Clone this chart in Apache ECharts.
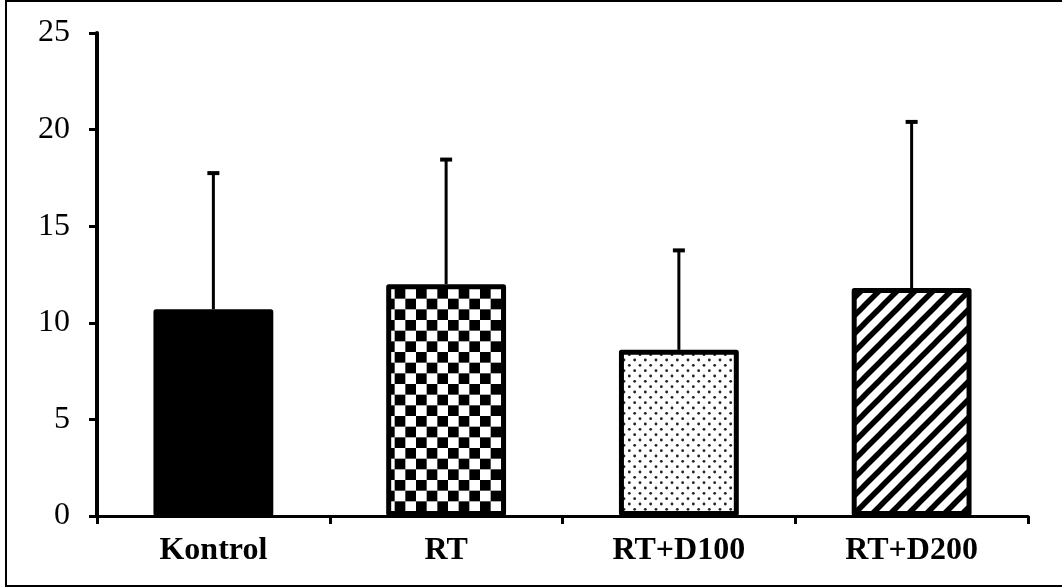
<!DOCTYPE html>
<html>
<head>
<meta charset="utf-8">
<title>Kontrol / RT / RT+D100 / RT+D200</title>
<script src="https://cdn.jsdelivr.net/npm/echarts@6/dist/echarts.min.js"></script>
<style>
  html, body { margin: 0; padding: 0; background: #fff; }
  #chart { width: 1062px; height: 587px; }
</style>
</head>
<body>
<div id="chart"></div>
<script>
// Group means and their upper error (SD)
const categories = ['Kontrol', 'RT', 'RT+D100', 'RT+D200'];
const means = [10.7, 12.0, 8.6, 11.8];
const errors = [7.1, 6.5, 5.2, 8.65];
const yTicks = [0, 5, 10, 15, 20, 25];

// Fill textures for the bars
function makeCanvas(w, h, draw) {
  const c = document.createElement('canvas');
  c.width = w; c.height = h;
  const ctx = c.getContext('2d');
  ctx.fillStyle = '#fff';
  ctx.fillRect(0, 0, w, h);
  draw(ctx, w, h);
  return c;
}

const checker = makeCanvas(64, 64, (ctx, w) => {
  const s = w / 6;
  ctx.fillStyle = '#000';
  for (let i = 0; i < 6; i++) {
    for (let j = 0; j < 6; j++) {
      if ((i + j) % 2 === 0) ctx.fillRect(i * s, j * s, s, s);
    }
  }
});

const dots = makeCanvas(32, 32, (ctx, w, h) => {
  const dx = w / 3, dy = h / 6;
  ctx.fillStyle = '#222';
  for (let j = 0; j < 6; j++) {
    for (let i = 0; i < 4; i++) {
      const x = i * dx + (j % 2 ? dx / 2 : 0);
      const y = j * dy + dy / 2;
      ctx.beginPath();
      ctx.arc(x, y, 1.4, 0, Math.PI * 2);
      ctx.fill();
    }
  }
});

const stripes = makeCanvas(18, 18, (ctx, w, h) => {
  ctx.strokeStyle = '#000';
  ctx.lineWidth = 5.5;
  for (let k = -1; k <= 1; k++) {
    ctx.beginPath();
    ctx.moveTo(k * w - 2, h + 2);
    ctx.lineTo(k * w + w + 2, -2);
    ctx.stroke();
  }
});

const fills = [
  '#000',
  { image: checker, repeat: 'repeat' },
  { image: dots, repeat: 'repeat' },
  { image: stripes, repeat: 'repeat' }
];

const errorData = means.map((m, i) => [i, m, m + errors[i]]);

const chart = echarts.init(document.getElementById('chart'), null, { renderer: 'canvas' });

chart.setOption({
  animation: false,
  backgroundColor: '#fff',
  graphic: [{
    type: 'rect',
    shape: { x: 6, y: 1, width: 1070, height: 585 },
    style: { fill: 'none', stroke: '#000', lineWidth: 2 },
    silent: true,
    z: 0
  }],
  grid: { left: 97, right: 34, top: 33, bottom: 71, containLabel: false },
  xAxis: {
    type: 'category',
    data: categories,
    boundaryGap: true,
    axisLine: { lineStyle: { color: '#000', width: 3 } },
    axisTick: { show: true, alignWithLabel: false, length: 8, lineStyle: { color: '#000', width: 3 } },
    axisLabel: {
      color: '#000',
      fontFamily: 'Liberation Serif',
      fontWeight: 'bold',
      fontSize: 32,
      margin: 19
    },
    splitLine: { show: false }
  },
  yAxis: {
    type: 'value',
    min: yTicks[0],
    max: yTicks[yTicks.length - 1],
    interval: 5,
    axisLine: { show: true, lineStyle: { color: '#000', width: 4 } },
    axisTick: { show: true, length: 8, lineStyle: { color: '#000', width: 3 } },
    axisLabel: {
      color: '#000',
      fontFamily: 'Liberation Serif',
      fontSize: 32,
      margin: 27
    },
    splitLine: { show: false }
  },
  series: [
    {
      type: 'custom',
      z: 1,
      data: errorData,
      renderItem: function (params, api) {
        const x = api.value(0);
        const base = api.coord([x, api.value(1)]);
        const top = api.coord([x, api.value(2)]);
        const capW = 12;
        return {
          type: 'group',
          children: [
            {
              type: 'line',
              shape: { x1: top[0], y1: top[1], x2: base[0], y2: base[1] },
              style: { stroke: '#000', lineWidth: 3 }
            },
            {
              type: 'rect',
              shape: { x: top[0] - capW / 2, y: top[1] - 1, width: capW, height: 4 },
              style: { fill: '#000' }
            }
          ]
        };
      }
    },
    {
      type: 'bar',
      z: 2,
      barWidth: '51.5%',
      data: means.map((v, i) => ({
        value: v,
        itemStyle: {
          color: fills[i],
          borderColor: '#000',
          borderWidth: 5,
          borderJoin: 'round'
        }
      }))
    }
  ]
});
</script>
</body>
</html>
